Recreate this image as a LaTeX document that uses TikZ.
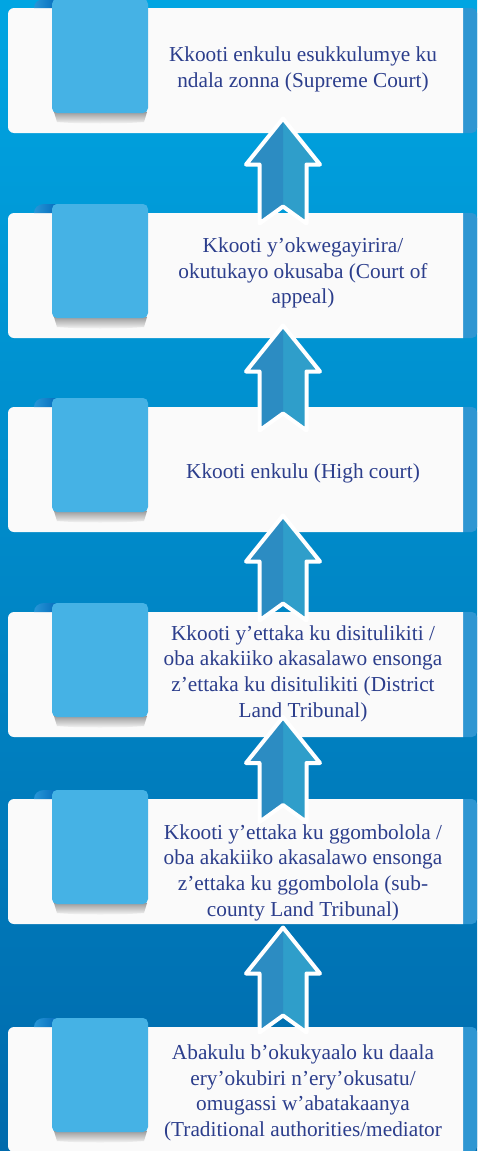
\documentclass[tikz,border=0pt]{standalone}
\usepackage{fontspec}
\setmainfont{Liberation Serif}
\definecolor{bgtop}{RGB}{0,165,226}
\definecolor{bgbot}{RGB}{0,106,172}
\definecolor{boxfill}{RGB}{250,250,250}
\definecolor{tabblue}{RGB}{69,178,229}
\definecolor{stripblue}{RGB}{46,150,210}
\definecolor{curldark}{RGB}{8,112,190}
\definecolor{curllight}{RGB}{40,150,215}
\definecolor{arrowL}{RGB}{44,140,194}
\definecolor{arrowR}{RGB}{47,158,202}
\definecolor{txtblue}{RGB}{44,62,140}
\tikzset{
  courttext/.style={text=txtblue, align=center, inner sep=0pt,
    font=\fontsize{21.3}{25.6}\selectfont},
  arrowline/.style={draw=white, line width=4pt, line join=round}
}
% #1 top y, #2 node name, #3 text centre y, #4 text
\newcommand\courtbox[4]{%
  \fill[stripblue, rounded corners=5pt] (450,#1) rectangle (477,#1+125);
  \fill[boxfill] (463,#1) [rounded corners=6pt] -- (8,#1) -- (8,#1+125) [sharp corners] -- (463,#1+125) -- cycle;
  \shade[top color=black!38!boxfill, bottom color=boxfill]
    (54,#1+104) -- (147,#1+104) -- (144,#1+114) .. controls (120,#1+116) and (80,#1+116) .. (57,#1+114) -- cycle;
  \shade[left color=curllight, right color=curldark]
    (55,#1) -- (34,#1) .. controls (34,#1-5) and (38,#1-9) .. (44,#1-9) -- (55,#1-9) -- cycle;
  \fill[tabblue, rounded corners=5pt] (52,#1-9) rectangle (148,#1+105);
  \node[courttext] (#2) at (303,#3) {#4};
}
% #1 tip y
\newcommand\levelarrow[1]{%
  \fill[arrowR] (283,#1) -- (320,#1+46) -- (306.5,#1+46) -- (306.5,#1+105) -- (283,#1+88)
    -- (259.5,#1+105) -- (259.5,#1+46) -- (246,#1+46) -- cycle;
  \fill[arrowL] (283,#1) -- (283,#1+88) -- (259.5,#1+105) -- (259.5,#1+46) -- (246,#1+46) -- cycle;
  \path[arrowline] (283,#1) -- (320,#1+46) -- (306.5,#1+46) -- (306.5,#1+105) -- (283,#1+88)
    -- (259.5,#1+105) -- (259.5,#1+46) -- (246,#1+46) -- cycle;
}
\begin{document}
\begin{tikzpicture}[x=1pt,y=-1pt]
\useasboundingbox (0,0) rectangle (477,1151);
\shade[top color=bgtop, bottom color=bgbot] (0,0) rectangle (477,1151);

\courtbox{8}{supreme}{69.5}{Kkooti enkulu esukkulumye ku\\ndala zonna (Supreme Court)}
\courtbox{213}{appeal}{273}{Kkooti y’okwegayirira/\\okutukayo okusaba (Court of\\appeal)}
\courtbox{407}{high}{473}{Kkooti enkulu (High court)}
\courtbox{612}{district}{673.6}{Kkooti y’ettaka ku disitulikiti /\\oba akakiiko akasalawo ensonga\\z’ettaka ku disitulikiti (District\\Land Tribunal)}
\courtbox{799}{subcounty}{872.5}{Kkooti y’ettaka ku ggombolola /\\oba akakiiko akasalawo ensonga\\z’ettaka ku ggombolola (sub-\\county Land Tribunal)}
\courtbox{1027}{traditional}{1093}{Abakulu b’okukyaalo ku daala\\ery’okubiri n’ery’okusatu/\\omugassi w’abatakaanya\\(Traditional authorities/mediator}

\levelarrow{118.5}
\levelarrow{325.5}
\levelarrow{515.5}
\levelarrow{717}
\levelarrow{927.5}
\end{tikzpicture}
\end{document}
